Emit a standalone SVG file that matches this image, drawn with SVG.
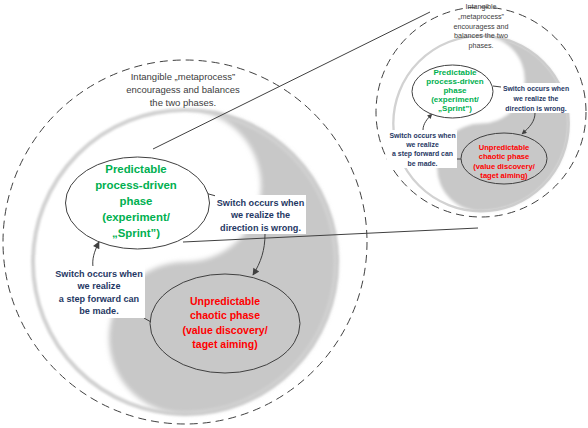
<svg xmlns="http://www.w3.org/2000/svg" width="588" height="428" viewBox="0 0 588 428">
<style>
.frame{fill:none;stroke:#404040;stroke-width:1;stroke-dasharray:8 5}
.ell{stroke:#404040;stroke-width:1}
.ln{fill:none;stroke:#404040;stroke-width:1}
.box{fill:#ffffff}
.t{font-family:"Liberation Sans",Arial,sans-serif;text-anchor:middle}
.meta{fill:#404040}
.g{fill:#00B050;font-weight:bold}
.r{fill:#FF0000;font-weight:bold}
.n{fill:#1F3864;font-weight:bold}
</style>
<defs>
<filter id="soft" x="-20%" y="-20%" width="140%" height="140%"><feGaussianBlur stdDeviation="2.5"/></filter>
<filter id="soft2" x="-20%" y="-20%" width="140%" height="140%"><feGaussianBlur stdDeviation="1.2"/></filter>
<g id="yy">
<circle cx="185" cy="262" r="152" fill="none" stroke="#d2d2d2" stroke-width="4" filter="url(#soft2)"/>
<path d="M185,110 A152,152 0 0 1 185,414 A76,76 0 0 1 185,262 A76,76 0 0 0 185,110 Z" fill="#c8c8c8" filter="url(#soft)"/>
</g>
<marker id="ah" viewBox="0 0 10 10" refX="9" refY="5" markerWidth="9" markerHeight="7" markerUnits="userSpaceOnUse" orient="auto"><path d="M0,0 L10,5 L0,10 z" fill="#404040"/></marker>
<marker id="ahs" viewBox="0 0 10 10" refX="9" refY="5" markerWidth="6" markerHeight="5" markerUnits="userSpaceOnUse" orient="auto"><path d="M0,0 L10,5 L0,10 z" fill="#404040"/></marker>
</defs>

<!-- big diagram -->
<g id="big-yinyang"><use href="#yy"/></g>
<g id="big-frame"><circle class="frame" cx="185" cy="242" r="182"/></g>

<!-- small diagram -->
<g id="small-yinyang"><use href="#yy" transform="translate(481,112) scale(0.577) translate(-185,-242)"/></g>
<g id="small-frame"><circle class="frame" cx="481" cy="112" r="105"/></g>

<g id="connectors">
<line class="ln" x1="153" y1="149" x2="430" y2="12"/>
<line class="ln" x1="183" y1="242" x2="478" y2="228"/>
<line class="ln" x1="205" y1="193" x2="216" y2="196"/>
<line class="ln" x1="144" y1="318" x2="151" y2="322"/>
<path class="ln" d="M265,234 C265,250 261,262 253,275" marker-end="url(#ah)"/>
<path class="ln" d="M93,267 C92,259 94,252 99,242" marker-end="url(#ah)"/>
<line class="ln" x1="493" y1="86" x2="501" y2="87"/>
<line class="ln" x1="457" y1="159" x2="461" y2="159"/>
<path class="ln" d="M535,113 C535,121 530,127 522,134" marker-end="url(#ahs)"/>
<path class="ln" d="M423,130 C423,124 427,119 432,114" marker-end="url(#ahs)"/>
</g>

<g id="big-metaprocess">
<text class="t meta" font-size="9.5"><tspan x="183" y="79.5">Intangible „metaprocess”</tspan><tspan x="183" y="92.5">encouragess and balances</tspan><tspan x="183" y="105.5">the two phases.</tspan></text>
</g>
<g id="big-predictable">
<ellipse class="ell" cx="137.5" cy="203" rx="72" ry="46" fill="#ffffff"/>
<text class="t g" font-size="11.4"><tspan x="136" y="173">Predictable</tspan><tspan x="136" y="189">process-driven</tspan><tspan x="136" y="205">phase</tspan><tspan x="136" y="221">(experiment/</tspan><tspan x="136" y="237">„Sprint”)</tspan></text>
</g>
<g id="big-unpredictable">
<ellipse class="ell" cx="225" cy="323.5" rx="75" ry="49.5" fill="none"/>
<text class="t r" font-size="10.5"><tspan x="225" y="305">Unpredictable</tspan><tspan x="225" y="319">chaotic phase</tspan><tspan x="225" y="333.5">(value discovery/</tspan><tspan x="225" y="348">taget aiming)</tspan></text>
</g>
<g id="big-switch-wrong">
<rect class="box" x="215" y="195" width="91" height="39"/>
<text class="t n" font-size="9.1"><tspan x="260.5" y="205.5">Switch occurs when</tspan><tspan x="260.5" y="218">we realize the</tspan><tspan x="260.5" y="231">direction is wrong.</tspan></text>
</g>
<g id="big-switch-forward">
<rect class="box" x="52" y="266" width="93" height="52"/>
<text class="t n" font-size="9.1"><tspan x="99" y="276.5">Switch occurs when</tspan><tspan x="99" y="289">we realize</tspan><tspan x="99" y="301.5">a step forward can</tspan><tspan x="99" y="314">be made.</tspan></text>
</g>

<g id="small-metaprocess">
<text class="t meta" font-size="7.2"><tspan x="481" y="9">Intangible</tspan><tspan x="481" y="19">„metaprocess”</tspan><tspan x="481" y="28.5">encouragess and</tspan><tspan x="481" y="38">balances the two</tspan><tspan x="481" y="47.5">phases.</tspan></text>
</g>
<g id="small-predictable">
<ellipse class="ell" cx="452.5" cy="91.5" rx="40.5" ry="26.5" fill="#ffffff"/>
<text class="t g" font-size="8"><tspan x="455" y="74.5">Predictable</tspan><tspan x="455" y="84">process-driven</tspan><tspan x="455" y="93">phase</tspan><tspan x="455" y="102">(experiment/</tspan><tspan x="455" y="111">„Sprint”)</tspan></text>
</g>
<g id="small-unpredictable">
<ellipse class="ell" cx="504" cy="158.5" rx="43" ry="25.5" fill="none"/>
<text class="t r" font-size="7.6"><tspan x="504" y="149.5">Unpredictable</tspan><tspan x="504" y="159">chaotic phase</tspan><tspan x="504" y="168.5">(value discovery/</tspan><tspan x="504" y="177.5">taget aiming)</tspan></text>
</g>
<g id="small-switch-wrong">
<rect class="box" x="501" y="83" width="71" height="30"/>
<text class="t n" font-size="6.9"><tspan x="536" y="91">Switch occurs when</tspan><tspan x="536" y="101">we realize the</tspan><tspan x="536" y="111">direction is wrong.</tspan></text>
</g>
<g id="small-switch-forward">
<rect class="box" x="387" y="130" width="70" height="38"/>
<text class="t n" font-size="6.9"><tspan x="422.5" y="137.5">Switch occurs when</tspan><tspan x="422.5" y="146.7">we realize</tspan><tspan x="422.5" y="156">a step forward can</tspan><tspan x="422.5" y="165.5">be made.</tspan></text>
</g>
</svg>
